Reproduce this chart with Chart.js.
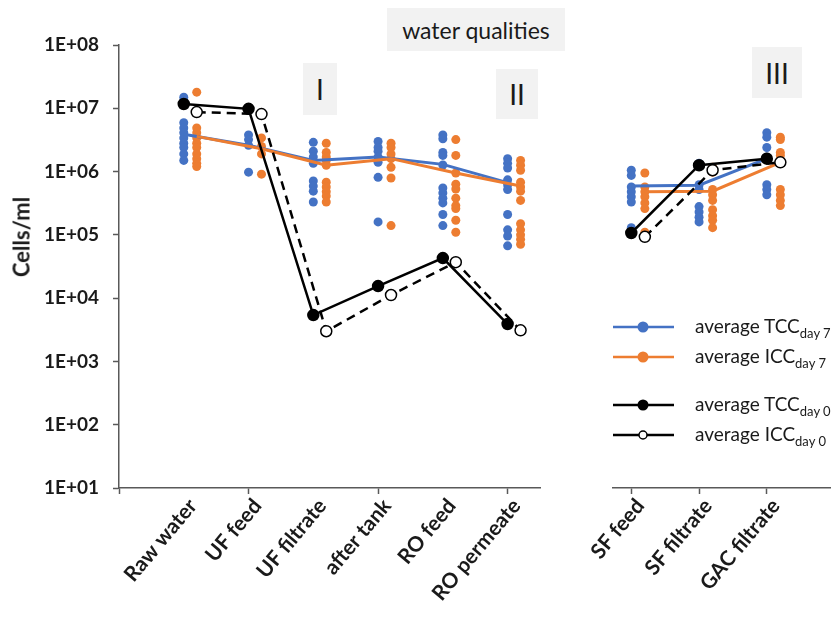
<!DOCTYPE html>
<html>
<head>
<meta charset="utf-8">
<script src="https://cdn.jsdelivr.net/npm/chart.js@4/dist/chart.umd.min.js"></script>
<style>
  body { margin: 0; background: #fff; font-family: Lato, "Open Sans", sans-serif; color: #1a1a1a; }
  #wrap { position: relative; width: 838px; height: 623px; overflow: hidden; }
  #left { position: absolute; left: 0; top: 0; }
  #right { position: absolute; left: 560px; top: 0; }
  .box { position: absolute; background: #f2f2f2; display: flex; align-items: center; justify-content: center; }
  #ytitle { position: absolute; left: 21px; top: 237px; transform: translate(-50%, -50%) rotate(-90deg); font-weight: bold; font-size: 22px; white-space: nowrap; }
  .leg { position: absolute; left: 613px; height: 30px; display: flex; align-items: center; font-size: 19px; white-space: nowrap; }
  .leg svg { margin-right: 21px; }
  .leg sub { font-size: 13px; vertical-align: -5px; }
</style>
</head>
<body>
<div id="wrap">
  <canvas id="left" width="548" height="623"></canvas>
  <canvas id="right" width="278" height="623"></canvas>
  <div id="ytitle">Cells/ml</div>
  <div class="box" style="left:387px;top:8px;width:178px;height:43px;font-size:23px;">water qualities</div>
  <div class="box" style="left:303px;top:63px;width:34px;height:52px;font-size:28px;">I</div>
  <div class="box" style="left:496px;top:69px;width:42px;height:50px;font-size:28px;">II</div>
  <div class="box" style="left:752px;top:47px;width:50px;height:51px;font-size:28px;">III</div>
  <div id="legend"></div>
</div>
<script>
const panelA = ['Raw water', 'UF feed', 'UF filtrate', 'after tank', 'RO feed', 'RO permeate'];
const panelB = ['SF feed', 'SF filtrate', 'GAC filtrate'];
const yTicks = [1e1, 1e2, 1e3, 1e4, 1e5, 1e6, 1e7, 1e8];

// day 7 single samples per sampling point (cells/ml), panelA then panelB
const tccDay7 = [
  [1.5e7, 1.3e7, 5.9e6, 4.9e6, 4.1e6, 3.4e6, 2.8e6, 2.4e6, 1.9e6, 1.5e6],
  [3.8e6, 3.2e6, 2.6e6, 9.8e5],
  [2.9e6, 2.1e6, 1.7e6, 1.35e6, 7.1e5, 5.9e5, 4.9e5, 3.3e5],
  [3.0e6, 2.4e6, 2.1e6, 1.7e6, 1.4e6, 8.1e5, 1.6e5],
  [3.8e6, 3.3e6, 2.0e6, 1.8e6, 1.27e6, 5.5e5, 4.6e5, 3.8e5, 3.2e5, 2.1e5, 1.4e5],
  [1.6e6, 1.35e6, 1.14e6, 7.4e5, 6.2e5, 5.2e5, 2.1e5, 1.2e5, 9.6e4, 6.7e4],
  [1.05e6, 8.7e5, 5.7e5, 4.8e5, 4.0e5, 3.3e5, 1.3e5],
  [1.35e6, 6.2e5, 5.2e5, 2.8e5, 2.3e5, 1.9e5, 1.6e5],
  [4.1e6, 3.5e6, 2.4e6, 1.7e6, 6.2e5, 5.2e5, 4.3e5]
];
const iccDay7 = [
  [1.8e7, 4.9e6, 4.1e6, 3.4e6, 2.8e6, 2.4e6, 1.9e6, 1.6e6, 1.35e6, 1.2e6],
  [3.4e6, 2.5e6, 1.9e6, 9.1e5],
  [2.8e6, 2.0e6, 1.7e6, 1.5e6, 1.26e6, 6.8e5, 5.7e5, 4.8e5, 4.1e5, 3.3e5],
  [2.8e6, 2.4e6, 1.9e6, 1.6e6, 1.17e6, 7.9e5, 1.4e5],
  [3.2e6, 1.8e6, 9.5e5, 6.3e5, 5.3e5, 3.8e5, 2.9e5, 2.6e5, 1.7e5, 1.1e5],
  [1.5e6, 1.26e6, 1.05e6, 6.8e5, 5.7e5, 4.9e5, 3.5e5, 1.5e5, 1.2e5, 1.0e5, 8.5e4, 7.1e4],
  [9.5e5, 5.7e5, 4.8e5, 4.0e5, 3.2e5, 2.6e5, 1.1e5],
  [1.17e6, 9.8e5, 5.2e5, 4.3e5, 3.5e5, 2.5e5, 2.0e5, 1.7e5, 1.3e5],
  [3.5e6, 3.2e6, 2.0e6, 1.8e6, 5.2e5, 4.3e5, 3.5e5, 2.9e5]
];
const tccDay7Avg = [3.9e6, 2.6e6, 1.5e6, 1.7e6, 1.3e6, 6.7e5, 5.9e5, 6.1e5, 1.6e6];
const iccDay7Avg = [3.6e6, 2.3e6, 1.26e6, 1.6e6, 9.5e5, 5.9e5, 4.8e5, 4.9e5, 1.4e6];
const tccDay0Avg = [1.17e7, 9.8e6, 5.4e3, 1.55e4, 4.3e4, 3.9e3, 1.07e5, 1.26e6, 1.6e6];
const iccDay0Avg = [8.7e6, 8.1e6, 3.0e3, 1.12e4, 3.7e4, 3.1e3, 9.3e4, 1.05e6, 1.4e6];

const BLUE = '#4472C4', ORANGE = '#ED7D31', AXIS = '#595959', TXT = '#1a1a1a';
const ICC_SHIFT = 0.2;
const yFont = { family: 'Lato, "Open Sans", sans-serif', size: 19, weight: 'bold' };
const xFont = { family: 'Lato, "Open Sans", sans-serif', size: 21, weight: 'bold' };

function buildDatasets(names, from) {
  const idx = names.map((_, i) => from + i);
  const dots = (arr, dx) => idx.flatMap((k, i) => arr[k].map(v => ({ x: i + 1 + dx, y: v })));
  const line = (arr, dx) => idx.map((k, i) => ({ x: i + 1 + dx, y: arr[k] }));
  return [
    { data: dots(tccDay7, 0), backgroundColor: BLUE, borderWidth: 0, pointRadius: 4.5, showLine: false, order: 6 },
    { data: dots(iccDay7, ICC_SHIFT), backgroundColor: ORANGE, borderWidth: 0, pointRadius: 4.5, showLine: false, order: 5 },
    { data: line(tccDay7Avg, 0), borderColor: BLUE, backgroundColor: BLUE, borderWidth: 3, pointRadius: 0, showLine: true, order: 4 },
    { data: line(iccDay7Avg, ICC_SHIFT), borderColor: ORANGE, backgroundColor: ORANGE, borderWidth: 3, pointRadius: 0, showLine: true, order: 3 },
    { data: line(tccDay0Avg, 0), borderColor: '#000', backgroundColor: '#000', borderWidth: 2.5, pointRadius: 5, showLine: true, order: 2 },
    { data: line(iccDay0Avg, ICC_SHIFT), borderColor: '#000', backgroundColor: '#fff', borderWidth: 2.5, borderDash: [9, 6],
      pointRadius: 5.5, pointBorderWidth: 1.5, showLine: true, order: 1 }
  ];
}

function makeChart(id, names, from, xMin, xMax, left, right, showY, tickEvery) {
  const xValues = names.map((_, i) => i + 1);
  return new Chart(document.getElementById(id), {
    type: 'scatter',
    data: { datasets: buildDatasets(names, from) },
    options: {
      responsive: false,
      animation: false,
      layout: { padding: { top: 45, left: left, right: right, bottom: 0 } },
      plugins: { legend: { display: false }, tooltip: { enabled: false } },
      scales: {
        x: {
          type: 'linear', min: xMin, max: xMax,
          afterBuildTicks: s => { s.ticks = (showY ? [0] : []).concat(xValues).map(v => ({ value: v })); },
          afterFit: s => { s.height = 135; s.paddingLeft = 0; s.paddingRight = 0; },
          border: { display: true, color: AXIS, width: 1.5 },
          grid: { drawOnChartArea: false, drawTicks: true, tickLength: 6,
                  tickColor: c => (c.tick && c.tick.value % tickEvery === 0) ? AXIS : 'rgba(0,0,0,0)', tickWidth: 1.5 },
          ticks: { autoSkip: false, minRotation: 50, maxRotation: 50, padding: 0, labelOffset: 9, color: TXT, font: xFont,
                   callback: v => names[v - 1] || '' }
        },
        y: {
          type: 'logarithmic', min: 10, max: 1e8, display: showY,
          afterBuildTicks: s => { s.ticks = yTicks.map(v => ({ value: v })); },
          afterFit: s => { if (showY) { s.width = 119; } s.paddingTop = 0; s.paddingBottom = 0; },
          border: { display: true, color: AXIS, width: 1.5 },
          grid: { drawOnChartArea: false, drawTicks: true, tickLength: 6, color: AXIS, tickWidth: 1.5 },
          ticks: { padding: 14, color: TXT, font: yFont,
                   callback: v => '1E+' + String(Math.round(Math.log10(v))).padStart(2, '0') }
        }
      }
    }
  });
}

makeChart('left', panelA, 0, 0, 6.5, 0, 8, true, 2);
makeChart('right', panelB, 6, 0.73, 3.94, 53, 0, false, 1);

function legendRow(top, color, fill, label, sub) {
  const svg = `<svg width="61" height="14" viewBox="0 0 61 14"><line x1="0" y1="7" x2="61" y2="7" stroke="${color}" stroke-width="2.5"/>`
    + (fill === 'none' ? `<circle cx="30" cy="7" r="4" fill="#fff" stroke="#000" stroke-width="1.5"/>`
                       : `<circle cx="30" cy="7" r="5.5" fill="${fill}"/>`) + `</svg>`;
  return `<div class="leg" style="top:${top - 15}px">${svg}<span>${label}<sub>${sub}</sub></span></div>`;
}
document.getElementById('legend').innerHTML =
  legendRow(327, BLUE, BLUE, 'average TCC', 'day 7') +
  legendRow(357, ORANGE, ORANGE, 'average ICC', 'day 7') +
  legendRow(405, '#000', '#000', 'average TCC', 'day 0') +
  legendRow(435, '#000', 'none', 'average ICC', 'day 0');
</script>
</body>
</html>
